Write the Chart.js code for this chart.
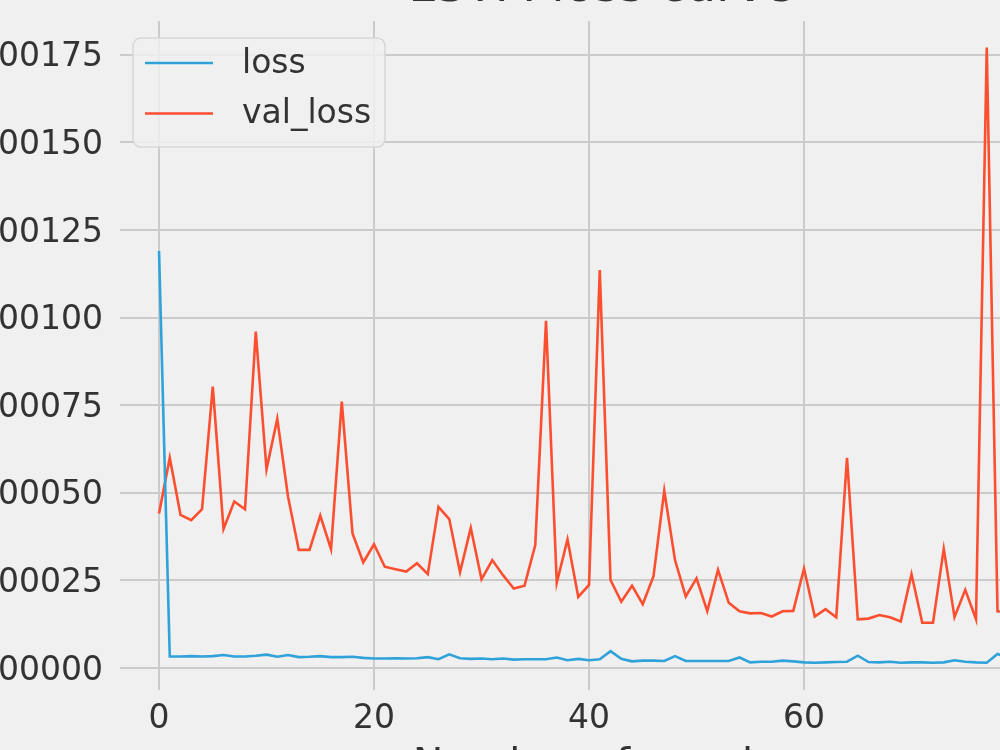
<!DOCTYPE html>
<html>
<head>
<meta charset="utf-8">
<script src="https://cdn.jsdelivr.net/npm/chart.js@4.4.1/dist/chart.umd.min.js"></script>
<style>
  html, body { margin: 0; padding: 0; background: #f0f0f0; overflow: hidden; width: 1000px; height: 750px; }
  #wrap { position: absolute; left: -60px; top: -80px; width: 1322px; height: 871px; }
</style>
</head>
<body>
<div id="wrap"><canvas id="lossChart" width="1322" height="871"></canvas></div>
<script>
'use strict';

// epochs 0..79 (the picture is cropped at about epoch 78)
const epochs = Array.from({ length: 80 }, (_, i) => i);

const loss = [
  0.001190, 0.000033, 0.000033, 0.000034, 0.000033, 0.000034, 0.000037, 0.000033, 0.000033, 0.000035,
  0.000038, 0.000032, 0.000037, 0.000031, 0.000032, 0.000034, 0.000031, 0.000031, 0.000032, 0.000029,
  0.000027, 0.000027, 0.000028, 0.000027, 0.000028, 0.000031, 0.000025, 0.000039, 0.000028, 0.000026,
  0.000027, 0.000025, 0.000027, 0.000024, 0.000025, 0.000025, 0.000025, 0.000030, 0.000022, 0.000026,
  0.000022, 0.000025, 0.000048, 0.000026, 0.000019, 0.000021, 0.000021, 0.000020, 0.000034, 0.000020,
  0.000020, 0.000020, 0.000020, 0.000020, 0.000030, 0.000016, 0.000018, 0.000018, 0.000021, 0.000019,
  0.000016, 0.000015, 0.000016, 0.000017, 0.000018, 0.000035, 0.000017, 0.000016, 0.000018, 0.000015,
  0.000016, 0.000016, 0.000015, 0.000016, 0.000022, 0.000018, 0.000016, 0.000015, 0.000040, 0.000030
];

const valLoss = [
  0.000441, 0.000600, 0.000437, 0.000422, 0.000453, 0.000803, 0.000397, 0.000475, 0.000453, 0.000960,
  0.000567, 0.000711, 0.000489, 0.000337, 0.000337, 0.000435, 0.000339, 0.000760, 0.000384, 0.000301,
  0.000353, 0.000289, 0.000282, 0.000275, 0.000299, 0.000268, 0.000460, 0.000425, 0.000273, 0.000400,
  0.000253, 0.000308, 0.000265, 0.000227, 0.000235, 0.000351, 0.000991, 0.000243, 0.000367, 0.000203,
  0.000237, 0.001136, 0.000251, 0.000189, 0.000235, 0.000182, 0.000262, 0.000506, 0.000308, 0.000204,
  0.000256, 0.000162, 0.000280, 0.000186, 0.000162, 0.000156, 0.000157, 0.000147, 0.000162, 0.000163,
  0.000284, 0.000147, 0.000168, 0.000145, 0.000600, 0.000139, 0.000141, 0.000151, 0.000145, 0.000133,
  0.000268, 0.000129, 0.000129, 0.000340, 0.000145, 0.000223, 0.000139, 0.001771, 0.000162, 0.000160
];

const xTicks = [0, 20, 40, 60, 80];
const yTicks = [0, 0.00025, 0.0005, 0.00075, 0.001, 0.00125, 0.0015, 0.00175];

const FONT = "'DejaVu Sans', sans-serif";
const TEXT = '#333333';
const GRID = '#cbcbcb';

// matplotlib style legend box, drawn inside the plot area
const legendBox = {
  id: 'legendBox',
  afterDatasetsDraw(chart) {
    const ctx = chart.ctx;
    const a = chart.chartArea;
    const x = a.left + 13, y = a.top + 17, w = 252, h = 109, r = 8;
    ctx.save();
    ctx.beginPath();
    ctx.roundRect(x, y, w, h, r);
    ctx.fillStyle = 'rgba(240,240,240,0.85)';
    ctx.fill();
    ctx.strokeStyle = '#d6d6d6';
    ctx.lineWidth = 1.5;
    ctx.stroke();
    ctx.font = '33px ' + FONT;
    ctx.textBaseline = 'middle';
    ctx.fillStyle = TEXT;
    chart.data.datasets.forEach((ds, i) => {
      const ly = y + 25 + i * 50.5;
      ctx.beginPath();
      ctx.moveTo(x + 12, ly);
      ctx.lineTo(x + 80, ly);
      ctx.strokeStyle = ds.borderColor;
      ctx.lineWidth = 2.5;
      ctx.stroke();
      ctx.fillText(ds.label, x + 109, ly + 1);
    });
    ctx.restore();
  }
};

const lossData = epochs.map((e, i) => ({ x: e, y: loss[i] }));
const valData = epochs.map((e, i) => ({ x: e, y: valLoss[i] }));

const config = {
  type: 'line',
  data: {
    datasets: [
      { label: 'loss', data: lossData, borderColor: '#30a2da', borderWidth: 2.6, pointRadius: 0, tension: 0, fill: false },
      { label: 'val_loss', data: valData, borderColor: '#fc4f30', borderWidth: 2.6, pointRadius: 0, tension: 0, fill: false }
    ]
  },
  options: {
    responsive: false,
    animation: false,
    layout: { padding: 0 },
    plugins: {
      legend: { display: false },
      tooltip: { enabled: false },
      title: {
        display: true,
        text: 'LSTM loss curve',
        color: TEXT,
        font: { family: FONT, size: 48, weight: 'normal' },
        padding: { top: 39.6, bottom: 3.8 }
      }
    },
    scales: {
      x: {
        type: 'linear',
        min: -3.63,
        max: 85.86,
        afterBuildTicks: (s) => { s.ticks = xTicks.map(v => ({ value: v })); },
        afterFit: (s) => { s.height = 101; },
        grid: { color: GRID, lineWidth: 2, drawTicks: false },
        border: { display: false },
        ticks: { color: TEXT, font: { family: FONT, size: 33 }, padding: 10, maxRotation: 0, callback: (v) => String(v) },
        title: { display: true, text: 'Number of epochs', color: TEXT, font: { family: FONT, size: 41 }, padding: 0 }
      },
      y: {
        min: -0.0000628,
        max: 0.0018465,
        afterBuildTicks: (s) => { s.ticks = yTicks.map(v => ({ value: v })); },
        afterFit: (s) => { s.width = 180; },
        grid: { color: GRID, lineWidth: 2, drawTicks: false },
        border: { display: false },
        ticks: { color: TEXT, font: { family: FONT, size: 33 }, padding: 17, labelOffset: 3, callback: (v) => v.toFixed(5) }
      },
      // empty right axis, keeps the title centred over the plot like the original
      y2: {
        position: 'right',
        display: true,
        afterFit: (s) => { s.width = 180; },
        grid: { display: false },
        border: { display: false },
        ticks: { display: false }
      }
    }
  },
  plugins: [legendBox]
};

const ctx = document.getElementById('lossChart');
window.lossChart = new Chart(ctx, config);
</script>
</body>
</html>
